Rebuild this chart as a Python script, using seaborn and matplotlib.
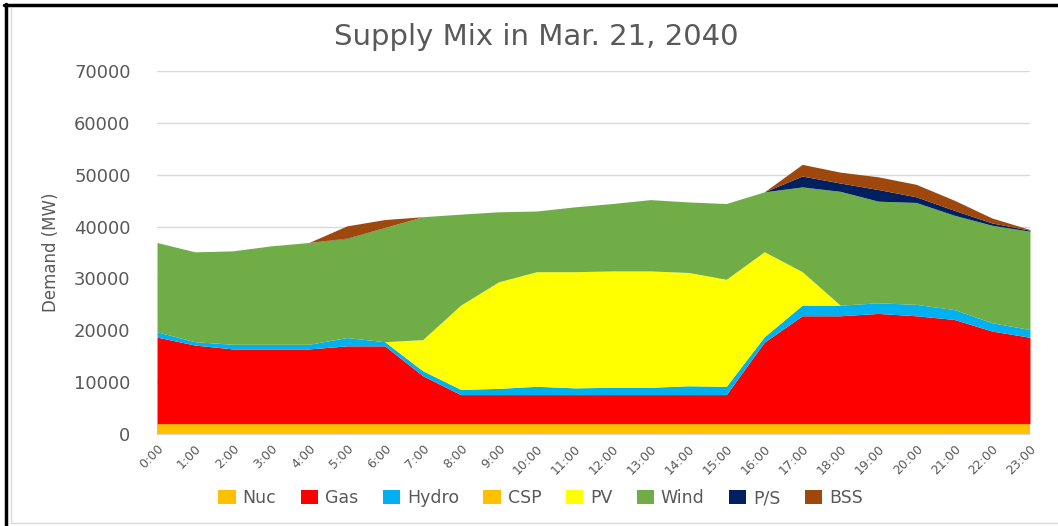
import matplotlib
matplotlib.use("Agg")
import matplotlib.pyplot as plt
from matplotlib.patches import Patch
from matplotlib.lines import Line2D
import seaborn as sns
import pandas as pd

# hourly supply mix (MW)
hours = [f"{h}:00" for h in range(24)]
nuc = [2000] * 24
gas = [16690, 15150, 14400, 14400, 14400, 15000, 15000, 9240, 5600, 5600, 5600, 5600,
       5600, 5600, 5600, 5600, 15700, 20800, 20800, 21250, 20800, 20100, 17850, 16650]
hydro = [1010, 650, 900, 900, 900, 1600, 800, 960, 1000, 1200, 1600, 1300,
         1400, 1400, 1700, 1600, 1050, 2050, 2050, 2050, 2200, 1900, 1600, 1500]
csp = [0] * 24
pv = [0, 0, 0, 0, 0, 0, 0, 6000, 16250, 20550, 22100, 22400,
      22450, 22450, 21850, 20650, 16400, 6450, 0, 0, 0, 0, 0, 0]
wind = [17230, 17330, 18020, 18980, 19630, 19100, 22020, 23700, 17550, 13500, 11700, 12500,
        13000, 13750, 13600, 14600, 11550, 16350, 21950, 19600, 19650, 18200, 18800, 18950]
ps = [0, 0, 0, 0, 0, 80, 0, 0, 0, 0, 0, 0,
      0, 0, 0, 0, 0, 2100, 1600, 2250, 1100, 950, 450, 200]
bss = [0, 0, 0, 0, 0, 2350, 1540, 0, 0, 0, 0, 0,
       0, 0, 0, 0, 0, 2250, 2100, 2450, 2400, 1950, 950, 130]

sources = ["Nuc", "Gas", "Hydro", "CSP", "PV", "Wind", "P/S", "BSS"]
colors = ["#FFC000", "#FF0000", "#00B0F0", "#FFC000", "#FFFF00", "#70AD47", "#002060", "#9E480E"]

df = pd.DataFrame({"Nuc": nuc, "Gas": gas, "Hydro": hydro, "CSP": csp, "PV": pv,
                   "Wind": wind, "P/S": ps, "BSS": bss}, index=hours)

sns.set_style("white")
plt.rcParams["font.family"] = ["DejaVu Sans"]

fig = plt.figure(figsize=(10.58, 5.26), dpi=100)
ax = fig.add_axes([0.1484, 0.1749, 0.8251, 0.6901])

x = list(range(len(hours)))
ax.stackplot(x, [df[c] for c in sources], colors=colors, linewidth=0)

ax.set_xlim(0, 23)
ax.set_ylim(0, 70000)
ax.set_yticks(range(0, 70001, 10000))
ax.yaxis.grid(True, color="#D9D9D9", linewidth=1)
ax.set_axisbelow(True)
for s in ["top", "right", "left"]:
    ax.spines[s].set_visible(False)
ax.spines["bottom"].set_color("#D9D9D9")

ax.set_xticks(x)
ax.set_xticklabels(hours, rotation=45, ha="right", rotation_mode="anchor",
                   fontsize=9, color="#595959")
ax.tick_params(axis="x", length=4, color="#D9D9D9", pad=2)
ax.tick_params(axis="y", length=0, labelsize=13, labelcolor="#595959", pad=19)

ax.set_ylabel("Demand (MW)", fontsize=12, color="#595959", labelpad=10)
fig.text(0.507, 0.93, "Supply Mix in Mar. 21, 2040", ha="center", va="center",
         fontsize=21, color="#595959")

handles = [Patch(facecolor=c, edgecolor="none") for c in colors]
fig.legend(handles, sources, loc="center", bbox_to_anchor=(0.511, 0.053), ncol=8,
           frameon=False, fontsize=12.5, labelcolor="#595959", handlelength=1.0,
           handleheight=0.9, handletextpad=0.4, columnspacing=1.4)

# frame around the picture, as in the screenshot
fig.add_artist(Line2D([0.006, 0.006], [0, 0.993], transform=fig.transFigure, color="black", lw=2.5))
fig.add_artist(Line2D([0.004, 1], [0.991, 0.991], transform=fig.transFigure, color="black", lw=2.5))
fig.add_artist(Line2D([0.01, 0.01], [0.006, 0.985], transform=fig.transFigure, color="#D9D9D9", lw=1))
fig.add_artist(Line2D([0.01, 1], [0.006, 0.006], transform=fig.transFigure, color="#D9D9D9", lw=1))

fig.savefig("out.png", dpi=100)
